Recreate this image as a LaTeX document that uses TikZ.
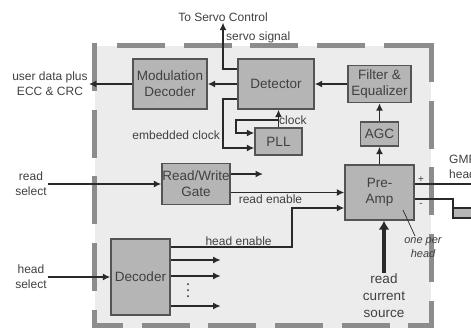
\documentclass[tikz,border=0pt]{standalone}
\usepackage{fontspec}
\setmainfont{Liberation Sans}
\usetikzlibrary{arrows.meta,calc}
\definecolor{BoxClr}{rgb}{0.71,0.71,0.71}
\definecolor{EdgeClr}{rgb}{0.33,0.33,0.33}
\definecolor{BgClr}{rgb}{0.925,0.925,0.925}
\definecolor{DashClr}{rgb}{0.55,0.55,0.55}
\definecolor{LineClr}{rgb}{0.16,0.16,0.16}
\definecolor{TextClr}{rgb}{0.25,0.25,0.25}

\begin{document}
\begin{tikzpicture}[x=1pt,y=-1pt,
  blk/.style={draw=EdgeClr,fill=BoxClr,line width=1.3pt,inner sep=0pt,align=center,
    text=TextClr,font=\fontsize{13.5}{16}\selectfont},
  lbl/.style={inner sep=1pt,align=center,text=TextClr,font=\fontsize{12}{15}\selectfont},
  sig/.style={draw=LineClr,line width=1.6pt,-{Latex[length=7.5pt,width=7pt]}},
  wire/.style={draw=LineClr,line width=1.6pt},
  border/.style={DashClr,line width=5pt,dash pattern=on 48pt off 18.67pt}]
\useasboundingbox (0,0) rectangle (471,327);
\clip (0,0) rectangle (471,327);

% channel chip
\fill[BgClr] (94.5,45.5) rectangle (431,330);
\draw[border] (94.5,43) -- (94.5,330);
\draw[border] (117,45.5) -- (433.5,45.5);
\draw[border,dash phase=9pt] (431,43) -- (431,330);
\draw[border,dash phase=17pt] (92,325) -- (434,325);

% blocks
\node[blk,minimum width=74pt,minimum height=50pt] (MD) at (170,84) {Modulation\\Decoder};
\node[blk,minimum width=76pt,minimum height=50pt] (DET) at (276,84) {Detector};
\node[blk,minimum width=63pt,minimum height=37pt] (FE) at (379.5,84) {Filter \&\\Equalizer};
\node[blk,minimum width=38pt,minimum height=24pt] (AGC) at (379.5,134) {AGC};
\node[blk,minimum width=47pt,minimum height=27pt] (PLL) at (278.5,141.5) {PLL};
\node[blk,minimum width=68pt,minimum height=41pt] (RW) at (196,184) {Read/Write\\Gate};
\node[blk,minimum width=59pt,minimum height=76pt] (DEC) at (140.5,277) {Decoder};
\node[blk,minimum width=69pt,minimum height=55pt] (PA) at (379.5,192.5) {Pre-\\Amp};

% read path
\draw[sig] (PA) -- (AGC);
\draw[sig] (AGC) -- (FE);
\draw[sig] (FE) -- (DET);
\draw[sig] (DET) -- (MD);
\node[lbl] (UD) at (50,84) {user data plus\\ECC \& CRC};
\draw[sig] (MD) -- (UD);

% servo
\node[lbl] (SRV) at (223,17) {To Servo Control};
\node[lbl,anchor=west] (SS) at (225,37) {servo signal};
\coordinate (SK) at (223,69);
\draw[sig] (DET.west |- SK) -- (SK) -- (SRV.south);

% clock recovery
\coordinate (EK) at (223,99);
\draw[sig] (DET.west |- EK) -- (EK) |- ($(PLL.west)+(0,6.5)$);
\node[lbl,anchor=east] (EC) at (221,135) {embedded clock};
\draw[sig] (PLL.north) -- (PLL.north |- DET.south);
\coordinate (LK) at (236,120);
\draw[sig] (PLL.north |- LK) -- (LK) |- ($(PLL.west)+(0,-8.5)$);
\node[lbl,anchor=west] (CK) at (278,120) {clock};

% read select
\node[lbl] (RS) at (31,184) {read\\select};
\draw[sig] (RS) -- (RW);
\coordinate (RO) at (263,174);
\draw[sig] (RW.east |- RO) -- (RO);
\draw[sig] (RW.east |- PA.west) -- (PA.west) node[lbl,pos=0.35,below] (RE) {read enable};

% head select
\node[lbl] (HS) at (31,277) {head\\select};
\draw[sig] (HS) -- (DEC);
\coordinate (HK) at (292,247);
\draw[sig] (DEC.east |- HK) -- (HK) node[lbl,pos=0.56,above] (HE) {head enable}
  |- ($(PA.west)+(0,15.5)$);
\foreach \dy [count=\i] in {-17,-1,29}{
  \coordinate (DO\i) at ($(DEC.east)+(50,\dy)$);
  \draw[sig] (DEC.east |- DO\i) -- (DO\i);
}
\foreach \y in {284,290,296} \fill[LineClr] (188,\y) circle (1);

% GMR head
\coordinate (GP) at (480,184);
\draw[wire] ($(PA.east)+(0,-8.5)$) -- (GP);
\coordinate (GM) at (453,199);
\filldraw[fill=BoxClr,draw=LineClr,line width=1.6pt] (453,208) rectangle (480,218);
\draw[wire] ($(PA.east)+(0,6.5)$) -- (GM) -- (453,208);
\node[lbl,font=\fontsize{10}{12}\selectfont] (PL) at (421,180) {+};
\node[lbl,font=\fontsize{10}{12}\selectfont] (MI) at (421,205) {-};
\node[lbl,anchor=west,align=left] (GH) at (448,167) {GMR\\head};

\node[lbl,font=\fontsize{11}{14}\selectfont\itshape] (OP) at (423,248) {one per\\head};
\coordinate (OA) at (403,210);
\coordinate (OB) at (415,236);
\draw[LineClr,line width=0.7pt] (OA) -- (OB);

% read current
\node[lbl,font=\fontsize{13.5}{17}\selectfont] (RC) at (384,296) {read\\current\\source};
\draw[LineClr,line width=3.5pt,-{Latex[length=9pt,width=11pt]}] (RC.north) -- (RC.north |- PA.south);

\end{tikzpicture}
\end{document}
